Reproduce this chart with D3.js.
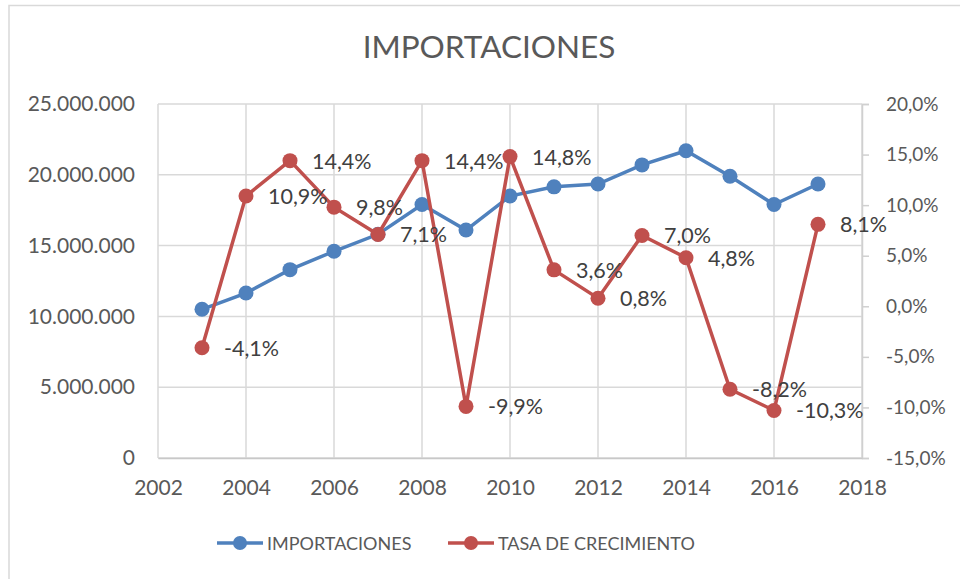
<!DOCTYPE html>
<html>
<head>
<meta charset="utf-8">
<script src="https://cdn.jsdelivr.net/npm/d3@7"></script>
<style>
  body { margin: 0; background: #fff; }
  text { font-family: Lato, "Open Sans", sans-serif; }
</style>
</head>
<body>
<div id="chart"></div>
<script>
// our data
const years = [2003, 2004, 2005, 2006, 2007, 2008, 2009, 2010, 2011, 2012, 2013, 2014, 2015, 2016, 2017]
const importaciones = [10500000, 11650000, 13300000, 14600000, 15800000, 17900000, 16100000, 18500000,
	19150000, 19350000, 20700000, 21700000, 19900000, 17900000, 19350000]
const tasa = [-4.1, 10.9, 14.4, 9.8, 7.1, 14.4, -9.9, 14.8, 3.6, 0.8, 7.0, 4.8, -8.2, -10.3, 8.1]
const xTicks = [2002, 2004, 2006, 2008, 2010, 2012, 2014, 2016, 2018]
const leftTicks = [0, 5000000, 10000000, 15000000, 20000000, 25000000]
const rightTicks = [-15, -10, -5, 0, 5, 10, 15, 20]

const width = 960
const height = 579
const blue = '#4f81bd'
const red = '#c0504d'
const font = 'Lato, "Open Sans", sans-serif'

const svg = d3.select('#chart')
	.append('svg')
	.attr('width', width)
	.attr('height', height)

// chart border, cut off at the right and bottom like the screenshot
svg.append('rect')
	.attr('x', 9).attr('y', 5.5)
	.attr('width', width).attr('height', height)
	.attr('fill', 'none')
	.attr('stroke', '#d9d9d9')
	.attr('stroke-width', 1.5)

const x = d3.scaleLinear().domain([2002, 2018]).range([158, 862])
const yLeft = d3.scaleLinear().domain([0, 25000000]).range([458, 104])
const yRight = d3.scaleLinear().domain([-15, 20]).range([458, 104])

// spanish style numbers, plain hyphen for the minus
const fmtThousands = v => d3.format(',.0f')(v).replace(/,/g, '.')
const fmtPct = v => (v < 0 ? '-' : '') + d3.format('.1f')(Math.abs(v)).replace('.', ',') + '%'

// title
svg.append('text')
	.attr('x', 489).attr('y', 58)
	.attr('text-anchor', 'middle')
	.attr('font-size', 31.5)
	.attr('fill', '#595959')
	.text('IMPORTACIONES')

// gridlines
const grid = svg.append('g').attr('stroke', '#d9d9d9').attr('stroke-width', 1.5)
grid.selectAll('.hg').data(leftTicks).join('line')
	.attr('x1', x(2002)).attr('x2', x(2018))
	.attr('y1', d => yLeft(d)).attr('y2', d => yLeft(d))
grid.selectAll('.vg').data(xTicks).join('line')
	.attr('x1', d => x(d)).attr('x2', d => x(d))
	.attr('y1', yLeft(0)).attr('y2', yLeft(25000000))

// axes
const axisLeft = svg.append('g')
	.attr('transform', `translate(${x(2002)},0)`)
	.call(d3.axisLeft(yLeft).tickValues(leftTicks).tickFormat(fmtThousands).tickSize(0).tickPadding(23))
const axisRight = svg.append('g')
	.attr('transform', `translate(${x(2018)},0)`)
	.call(d3.axisRight(yRight).tickValues(rightTicks).tickFormat(fmtPct).tickSize(7).tickPadding(17))
const axisBottom = svg.append('g')
	.attr('transform', `translate(0,${yLeft(0)})`)
	.call(d3.axisBottom(x).tickValues(xTicks).tickFormat(d3.format('d')).tickSize(0).tickPadding(22))

;[axisLeft, axisRight, axisBottom].forEach(a => {
	a.select('.domain').attr('stroke', '#d0d0d0').attr('stroke-width', 1.5)
	a.selectAll('.tick line').attr('stroke', '#d0d0d0').attr('stroke-width', 1.5)
	a.selectAll('text').attr('font-size', 21).attr('fill', '#595959').attr('font-family', font)
})
axisRight.selectAll('text').attr('font-size', 19)
axisLeft.select('.domain').remove()
axisBottom.select('.domain').attr('stroke', '#c8c8c8')

// blue series
const lineBlue = d3.line().x((d, i) => x(years[i])).y(d => yLeft(d))
svg.append('path')
	.datum(importaciones)
	.attr('d', lineBlue)
	.attr('fill', 'none')
	.attr('stroke', blue)
	.attr('stroke-width', 3.5)
svg.selectAll('.dotBlue').data(importaciones).join('circle')
	.attr('cx', (d, i) => x(years[i]))
	.attr('cy', d => yLeft(d))
	.attr('r', 7.5)
	.attr('fill', blue)

// red series
const lineRed = d3.line().x((d, i) => x(years[i])).y(d => yRight(d))
svg.append('path')
	.datum(tasa)
	.attr('d', lineRed)
	.attr('fill', 'none')
	.attr('stroke', red)
	.attr('stroke-width', 3.5)
svg.selectAll('.dotRed').data(tasa).join('circle')
	.attr('cx', (d, i) => x(years[i]))
	.attr('cy', d => yRight(d))
	.attr('r', 7.5)
	.attr('fill', red)

// labels to the right of the red points
svg.selectAll('.lbl').data(tasa).join('text')
	.attr('x', (d, i) => x(years[i]) + 22)
	.attr('y', d => yRight(d) + 8)
	.attr('font-size', 21.5)
	.attr('fill', '#404040')
	.text(d => fmtPct(d))

// legend
const legend = [
	{label: 'IMPORTACIONES', color: blue, x: 217},
	{label: 'TASA DE CRECIMIENTO', color: red, x: 448}
]
const $leg = svg.selectAll('.leg').data(legend).join('g')
	.attr('transform', d => `translate(${d.x},543)`)
$leg.append('line')
	.attr('x1', 0).attr('x2', 46)
	.attr('stroke', d => d.color)
	.attr('stroke-width', 3.5)
$leg.append('circle')
	.attr('cx', 23).attr('r', 7)
	.attr('fill', d => d.color)
$leg.append('text')
	.attr('x', 50).attr('y', 6.5)
	.attr('font-size', 18)
	.attr('fill', '#595959')
	.text(d => d.label)
</script>
</body>
</html>
